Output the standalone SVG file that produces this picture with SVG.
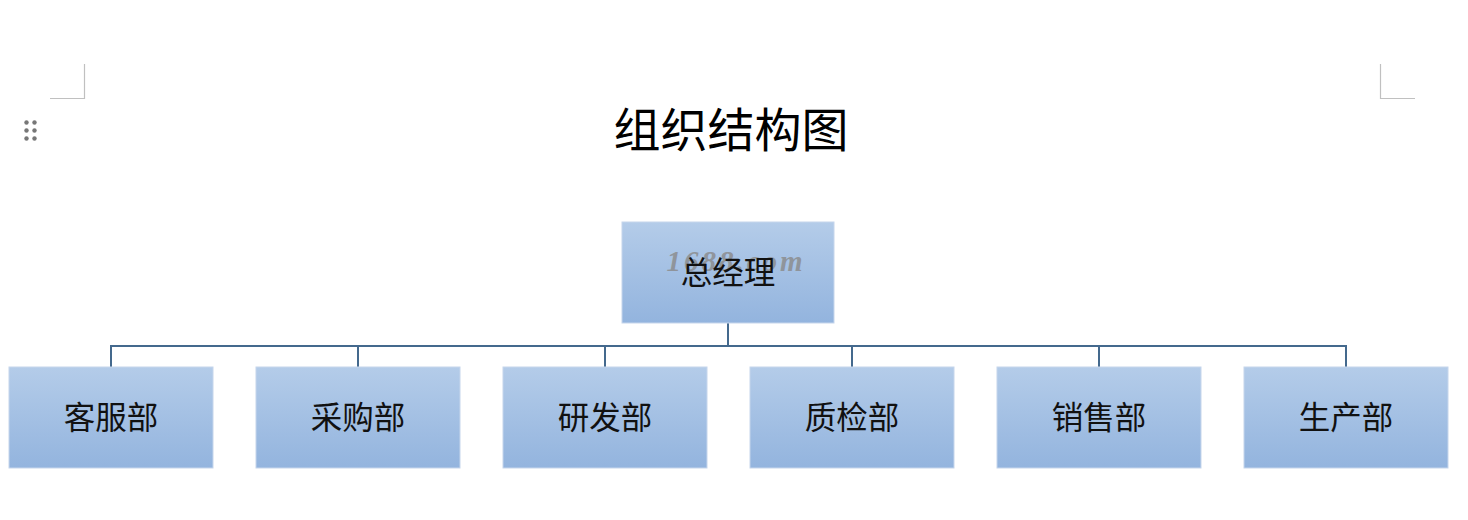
<svg xmlns="http://www.w3.org/2000/svg" width="1468" height="520" viewBox="0 0 1468 520">
<defs>
<linearGradient id="g" x1="0" y1="0" x2="0" y2="1">
<stop offset="0" stop-color="#b4cce9"/>
<stop offset="1" stop-color="#93b4de"/>
</linearGradient>
<style>
.box{fill:url(#g);stroke:#c6d6ec;stroke-width:1}
.lbl{font-family:"Noto Sans CJK SC","Noto Sans CJK JP",sans-serif;font-size:31.5px;fill:#111;text-anchor:middle;dominant-baseline:central}
.conn{stroke:#44698d;stroke-width:2;fill:none}
.mark{stroke:#c0c0c0;stroke-width:1.2;fill:none}
</style>
</defs>
<rect width="1468" height="520" fill="#ffffff"/>
<path class="mark" d="M84.5 64V98.5H50"/>
<path class="mark" d="M1380.5 64V98.5H1415"/>
<g fill="#777">
<circle cx="26.5" cy="122.5" r="2.2"/><circle cx="34.5" cy="122.5" r="2.2"/>
<circle cx="26.5" cy="130.5" r="2.2"/><circle cx="34.5" cy="130.5" r="2.2"/>
<circle cx="26.5" cy="138.5" r="2.2"/><circle cx="34.5" cy="138.5" r="2.2"/>
</g>
<text x="731" y="126" font-family="'Noto Sans CJK SC',sans-serif" font-size="47" fill="#000" text-anchor="middle" dominant-baseline="central">组织结构图</text>
<g id="connectors">
<path class="conn" d="M728 323V346M111 367V346H1346V367M358 346V367M605 346V367M852 346V367M1099 346V367"/>
</g>
<g id="n0">
<rect class="box" x="622" y="222" width="212" height="101"/>
<text x="736" y="261" font-family="'Liberation Serif',serif" font-style="italic" font-weight="bold" font-size="29" letter-spacing="3" fill="#8a8a8a" opacity="0.8" text-anchor="middle" dominant-baseline="central">1688.com</text>
<text class="lbl" x="728" y="270" font-size="32">总经理</text>
</g>
<g id="n1"><rect class="box" x="9" y="367" width="204" height="101"/><text class="lbl" x="111" y="415">客服部</text></g>
<g id="n2"><rect class="box" x="256" y="367" width="204" height="101"/><text class="lbl" x="358" y="415">采购部</text></g>
<g id="n3"><rect class="box" x="503" y="367" width="204" height="101"/><text class="lbl" x="605" y="415">研发部</text></g>
<g id="n4"><rect class="box" x="750" y="367" width="204" height="101"/><text class="lbl" x="852" y="415">质检部</text></g>
<g id="n5"><rect class="box" x="997" y="367" width="204" height="101"/><text class="lbl" x="1099" y="415">销售部</text></g>
<g id="n6"><rect class="box" x="1244" y="367" width="204" height="101"/><text class="lbl" x="1346" y="415">生产部</text></g>
</svg>
